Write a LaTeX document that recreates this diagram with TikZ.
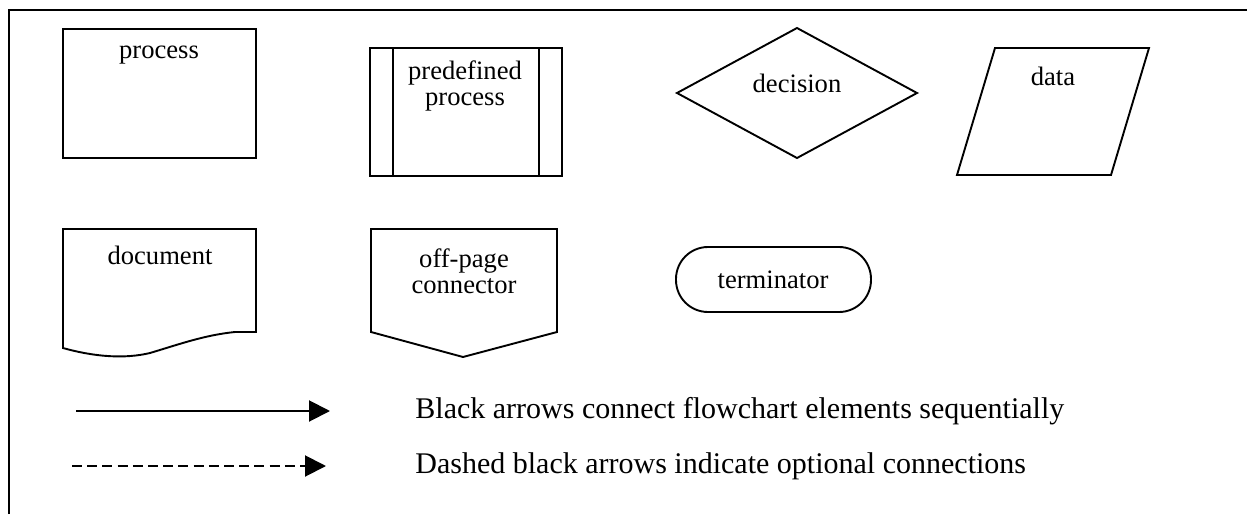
\documentclass[tikz,border=0pt]{standalone}
\usepackage{fontspec}
\setmainfont{Liberation Serif}
\usetikzlibrary{arrows.meta}
\tikzset{
  shapeline/.style={draw=black, line width=0.95pt, line join=miter},
  lbl/.style={inner sep=0pt, align=center, font=\fontsize{13.3}{13}\selectfont},
  legendtext/.style={inner sep=0pt, anchor=west, font=\fontsize{15}{18}\selectfont},
  arrowline/.style={line width=1pt, -{Triangle[length=10.5pt,width=10.5pt]}},
}
\begin{document}
\begin{tikzpicture}[x=0.5pt,y=-0.5pt]
\useasboundingbox (0,0) rectangle (1247,514);
% frame
\draw[line width=1pt] (9,514) -- (9,10) -- (1247,10);
% process
\draw[shapeline] (63,29) rectangle (256,158);
\node[lbl] (proc) at (159,55) {process};
% predefined process
\draw[shapeline] (370,48) rectangle (562,176);
\draw[shapeline] (393,48) -- (393,176);
\draw[shapeline] (539,48) -- (539,176);
\node[lbl] (pred) at (465,86) {predefined\\process};
% decision
\draw[shapeline] (677,93) -- (797,28) -- (917,93) -- (797,158) -- cycle;
\node[lbl] (dec) at (797,83) {decision};
% data
\draw[shapeline] (995,48) -- (1149,48) -- (1111,175) -- (957,175) -- cycle;
\node[lbl] (data) at (1053,76) {data};
% document
\draw[shapeline] (63,229) -- (256,229) -- (256,332) -- (235,332)
  .. controls (205,335) and (180,344) .. (150,353)
  .. controls (125,359) and (95,357) .. (63,348) -- cycle;
\node[lbl] (doc) at (160,255) {document};
% off-page connector
\draw[shapeline] (371,229) -- (557,229) -- (557,332) -- (463,357) -- (371,332) -- cycle;
\node[lbl] (off) at (464,271) {off-page\\connector};
% terminator
\draw[shapeline, rounded corners=16pt] (676,247) rectangle (871,312);
\node[lbl] (term) at (773,280) {terminator};
% legend
\coordinate (a1s) at (76,411);
\coordinate (a1e) at (330,411);
\coordinate (a2s) at (72,466);
\coordinate (a2e) at (326,466);
\draw[arrowline] (a1s) -- (a1e);
\draw[arrowline, dash pattern=on 5pt off 2.6pt] (a2s) -- (a2e);
\node[legendtext] (t1) at (415,411) {Black arrows connect flowchart elements sequentially};
\node[legendtext] (t2) at (415,466) {Dashed black arrows indicate optional connections};
\end{tikzpicture}
\end{document}
